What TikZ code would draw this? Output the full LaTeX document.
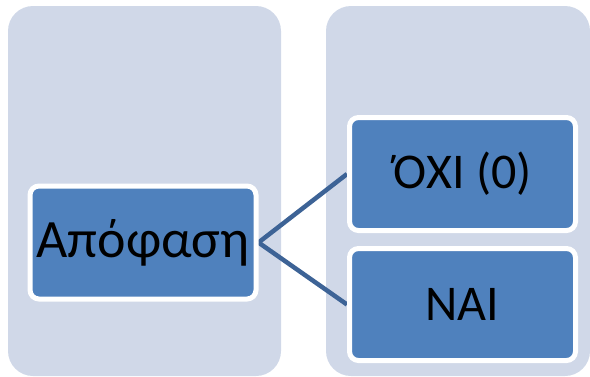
\documentclass[tikz,border=0pt]{standalone}
\usepackage{fontspec}
\setmainfont{Carlito}
\usetikzlibrary{backgrounds}
\definecolor{panelfill}{HTML}{D0D8E8}
\definecolor{boxfill}{HTML}{4F81BD}
\definecolor{linkcol}{HTML}{3D6396}
\tikzset{
  panel/.style={fill=panelfill, draw=none, rounded corners=25pt},
  itembox/.style={fill=boxfill, draw=white, line width=5pt, rounded corners=9pt,
    minimum width=226pt, minimum height=113pt, inner sep=0pt,
    font=\fontsize{50}{60}\selectfont, text=black},
  link/.style={draw=linkcol, line width=4.5pt}
}
\begin{document}
\begin{tikzpicture}[x=1pt,y=-1pt]
  \useasboundingbox (0,0) rectangle (590,376);
  % item boxes
  \node[itembox, font=\fontsize{54}{64}\selectfont] (apof) at (143,242.5) {Απόφαση};
  % the accented capital is boxed on its own so the font keeps its tonos
  \node[itembox] (oxi)  at (462.5,174) {\mbox{\symbol{"038C}}ΧΙ (0)};
  \node[itembox, minimum height=112pt] (nai) at (462.5,304.5) {ΝΑΙ};
  \begin{scope}[on background layer]
    % column panels
    \fill[panel] (8,6) rectangle (281,376);
    \fill[panel] (326,6) rectangle (590,376);
    % branches
    \draw[link] (apof.east) -- (oxi.west);
    \draw[link] (apof.east) -- (nai.west);
  \end{scope}
\end{tikzpicture}
\end{document}
